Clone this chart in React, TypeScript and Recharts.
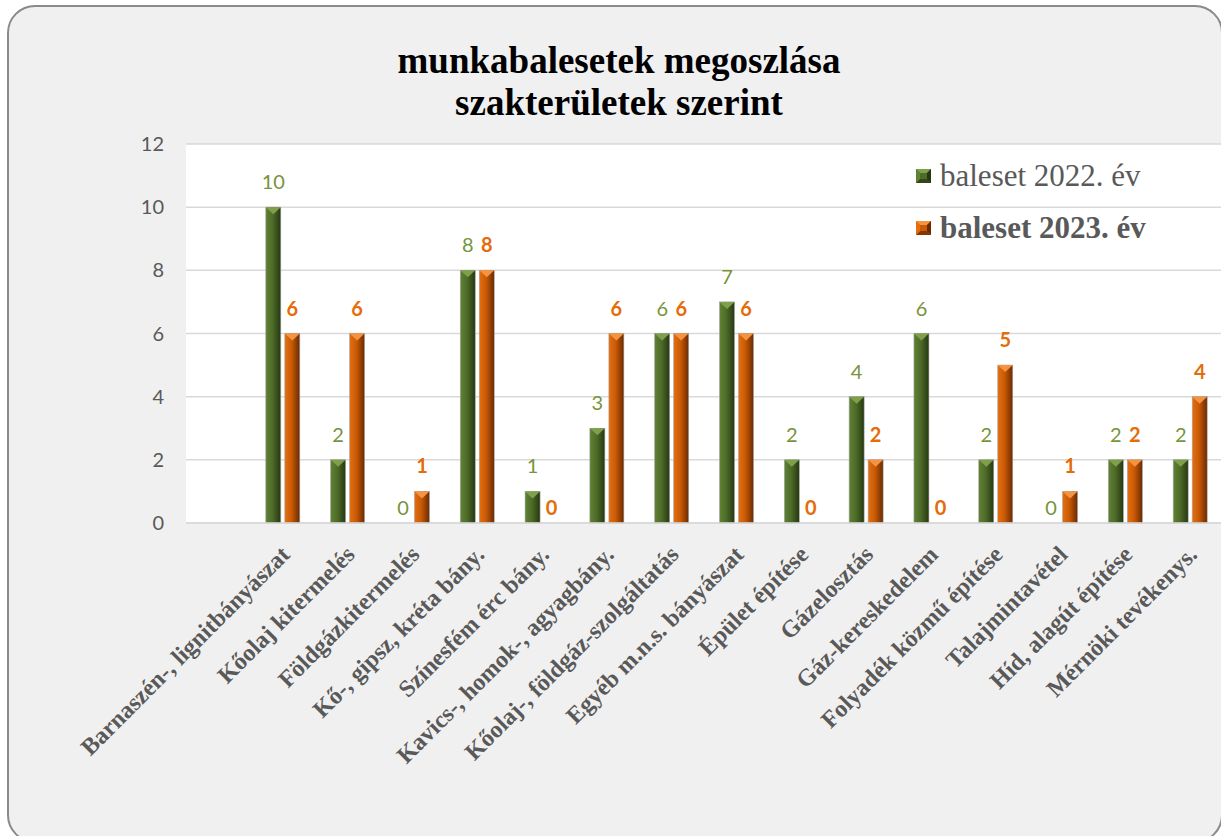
import React from "react";
import { BarChart, Bar, XAxis, YAxis, CartesianGrid, LabelList } from "recharts";

const categories = [
  "",
  "Barnaszén-, lignitbányászat",
  "Kőolaj kitermelés",
  "Földgázkitermelés",
  "Kő-, gipsz, kréta bány.",
  "Színesfém érc bány.",
  "Kavics-, homok-, agyagbány.",
  "Kőolaj-, földgáz-szolgáltatás",
  "Egyéb m.n.s. bányászat",
  "Épület építése",
  "Gázelosztás",
  "Gáz-kereskedelem",
  "Folyadék közmű építése",
  "Talajmintavétel",
  "Híd, alagút építése",
  "Mérnöki tevékenys.",
];
const series2022: (number | null)[] = [null, 10, 2, 0, 8, 1, 3, 6, 7, 2, 4, 6, 2, 0, 2, 2];
const series2023: (number | null)[] = [null, 6, 6, 1, 8, 0, 6, 6, 6, 0, 2, 0, 5, 1, 2, 4];
const yTicks = [0, 2, 4, 6, 8, 10, 12];
const seriesNames = ["baleset 2022. év", "baleset 2023. év"];

const data = categories.map((c, i) => ({ name: c, a: series2022[i], b: series2023[i] }));

const GREEN_LABEL = "#77933c";
const ORANGE_LABEL = "#e46c0a";
const TEXT_GRAY = "#595959";
const SERIF = "'Liberation Serif', 'Times New Roman', serif";
const SANS = "Lato, 'Open Sans', sans-serif";

const palettes: Record<string, { l: string; m: string; r: string; top: string }> = {
  g: { l: "#5f8233", m: "#4e6b28", r: "#263812", top: "#7fa04a" },
  o: { l: "#e56f10", m: "#c95a06", r: "#6a2a02", top: "#f49440" },
};

const BevelBar = (props: any) => {
  const { x, y, width, height, kind } = props;
  if (!height || height <= 0) return null;
  const p = palettes[kind];
  const tri = Math.min(7, height);
  return (
    <g>
      <rect x={x} y={y} width={width} height={height} fill={`url(#grad-${kind})`} stroke="#a6a6a6" strokeWidth={0.6} />
      <polygon points={`${x},${y} ${x + width},${y} ${x + width / 2},${y + tri}`} fill={p.top} />
    </g>
  );
};

const makeLabel = (color: string, bold: boolean) => (props: any) => {
  const { x, y, width, height, value } = props;
  if (value === null || value === undefined) return null;
  const cx = x + width / 2;
  const base = height > 0 ? y - 18 : y - 8;
  return (
    <text x={cx} y={base} textAnchor="middle" fill={color} fontFamily={SANS} fontSize={20} fontWeight={bold ? 700 : 400}>
      {value}
    </text>
  );
};

const XTick = (props: any) => {
  const { x, y, payload } = props;
  if (!payload.value) return null;
  const tx = x + 8;
  const ty = y + 25;
  return (
    <text
      x={tx}
      y={ty}
      textAnchor="end"
      transform={`rotate(-45, ${tx}, ${ty})`}
      fill={TEXT_GRAY}
      fontFamily={SERIF}
      fontWeight={700}
      fontSize={24}
    >
      {payload.value}
    </text>
  );
};

const LegendSquare = ({ kind }: { kind: string }) => {
  const p = palettes[kind];
  return (
    <svg width={15} height={14} style={{ display: "block" }}>
      <rect x={0} y={0} width={15} height={14} fill={p.m} />
      <polygon points="0,0 15,0 11,4 4,4" fill={p.top} />
      <polygon points="15,0 15,14 11,10 11,4" fill={p.r} />
      <polygon points="0,14 15,14 11,10 4,10" fill={p.r} opacity={0.7} />
      <polygon points="0,0 4,4 4,10 0,14" fill={p.l} />
    </svg>
  );
};

const LegendBox = () => (
  <div style={{ position: "absolute", left: 916, top: 158, fontFamily: SERIF, color: TEXT_GRAY, fontSize: 31, whiteSpace: "nowrap" }}>
    <div style={{ display: "flex", alignItems: "center", height: 36 }}>
      <LegendSquare kind="g" />
      <span style={{ marginLeft: 9 }}>{seriesNames[0]}</span>
    </div>
    <div style={{ display: "flex", alignItems: "center", height: 36, marginTop: 16, fontWeight: 700 }}>
      <LegendSquare kind="o" />
      <span style={{ marginLeft: 9 }}>{seriesNames[1]}</span>
    </div>
  </div>
);

export default function App() {
  return (
    <div style={{ position: "fixed", left: 0, top: 0, width: 1221, height: 836, overflow: "hidden", background: "#ffffff" }}>
      <div
        style={{
          position: "absolute",
          left: 7,
          top: 5,
          width: 1216,
          height: 838,
          boxSizing: "border-box",
          border: "2px solid #8a8a8a",
          borderRadius: 28,
          background: "#f0f0f0",
        }}
      />
      <div style={{ position: "absolute", left: 0, top: 0, fontFamily: SERIF, fontWeight: 700, fontSize: 37, color: "#000" }}>
        <div style={{ position: "absolute", left: 619, top: 72, transform: "translate(-50%, -80%)", whiteSpace: "nowrap", lineHeight: 1 }}>
          munkabalesetek megoszlása
        </div>
        <div style={{ position: "absolute", left: 619, top: 114, transform: "translate(-50%, -80%)", whiteSpace: "nowrap", lineHeight: 1 }}>
          szakterületek szerint
        </div>
      </div>
      <div style={{ position: "absolute", left: 0, top: 0 }}>
        <BarChart
          width={1240}
          height={836}
          data={data}
          margin={{ top: 144, right: 17, left: 0, bottom: 0 }}
          barSize={15}
          barGap={4}
        >
          <defs>
            <linearGradient id="grad-g" x1="0" y1="0" x2="1" y2="0">
              <stop offset="0%" stopColor={palettes.g.l} />
              <stop offset="45%" stopColor={palettes.g.m} />
              <stop offset="100%" stopColor={palettes.g.r} />
            </linearGradient>
            <linearGradient id="grad-o" x1="0" y1="0" x2="1" y2="0">
              <stop offset="0%" stopColor={palettes.o.l} />
              <stop offset="45%" stopColor={palettes.o.m} />
              <stop offset="100%" stopColor={palettes.o.r} />
            </linearGradient>
          </defs>
          <CartesianGrid vertical={false} stroke="#d9d9d9" strokeWidth={1.5} fill="#ffffff" />
          <XAxis
            dataKey="name"
            interval={0}
            height={313}
            tickLine={false}
            axisLine={{ stroke: "#d9d9d9", strokeWidth: 1.5 }}
            tick={<XTick />}
          />
          <YAxis
            width={186}
            domain={[0, 12]}
            ticks={yTicks}
            axisLine={false}
            tickLine={false}
            tickSize={0}
            tickMargin={22}
            tick={{ fill: TEXT_GRAY, fontFamily: SANS, fontSize: 20 }}
          />
          <Bar dataKey="a" name={seriesNames[0]} isAnimationActive={false} shape={(p: any) => <BevelBar {...p} kind="g" />}>
            <LabelList dataKey="a" content={makeLabel(GREEN_LABEL, false)} />
          </Bar>
          <Bar dataKey="b" name={seriesNames[1]} isAnimationActive={false} shape={(p: any) => <BevelBar {...p} kind="o" />}>
            <LabelList dataKey="b" content={makeLabel(ORANGE_LABEL, true)} />
          </Bar>
        </BarChart>
      </div>
      <LegendBox />
    </div>
  );
}
